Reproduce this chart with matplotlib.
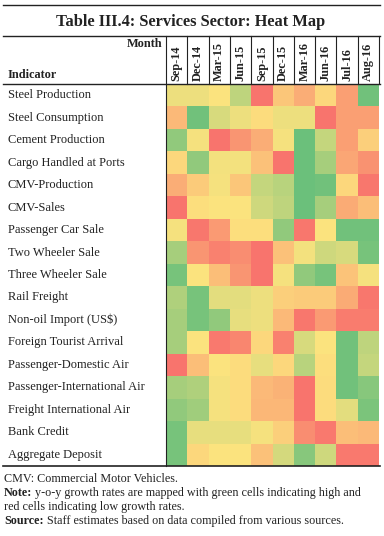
import matplotlib
matplotlib.use("Agg")
import matplotlib.pyplot as plt
import numpy as np
from matplotlib.colors import LinearSegmentedColormap

months = ["Sep-14", "Dec-14", "Mar-15", "Jun-15", "Sep-15", "Dec-15",
          "Mar-16", "Jun-16", "Jul-16", "Aug-16"]
indicators = ["Steel Production", "Steel Consumption", "Cement Production",
              "Cargo Handled at Ports", "CMV-Production", "CMV-Sales",
              "Passenger Car Sale", "Two Wheeler Sale", "Three Wheeler Sale",
              "Rail Freight", "Non-oil Import (US$)", "Foreign Tourist Arrival",
              "Passenger-Domestic Air", "Passenger-International Air",
              "Freight International Air", "Bank Credit", "Aggregate Deposit"]

# relative growth score: 0 = lowest (red), 0.5 = middle (yellow), 1 = highest (green)
steel_production = [0.55, 0.55, 0.50, 0.70, 0.05, 0.38, 0.28, 0.45, 0.22, 0.95]
steel_consumption = [0.33, 0.95, 0.62, 0.55, 0.47, 0.55, 0.55, 0.05, 0.22, 0.22]
cement_production = [0.85, 0.52, 0.05, 0.18, 0.28, 0.52, 0.97, 0.68, 0.22, 0.42]
cargo_ports = [0.45, 0.85, 0.53, 0.53, 0.36, 0.05, 0.97, 0.78, 0.25, 0.17]
cmv_production = [0.28, 0.40, 0.52, 0.38, 0.68, 0.72, 0.97, 0.95, 0.45, 0.06]
cmv_sales = [0.05, 0.48, 0.50, 0.50, 0.65, 0.70, 0.97, 0.78, 0.27, 0.35]
passenger_car = [0.52, 0.06, 0.20, 0.48, 0.48, 0.85, 0.06, 0.50, 0.95, 0.95]
two_wheeler = [0.78, 0.18, 0.10, 0.15, 0.05, 0.36, 0.53, 0.65, 0.62, 0.93]
three_wheeler = [0.93, 0.50, 0.35, 0.18, 0.05, 0.52, 0.85, 0.93, 0.37, 0.52]
rail_freight = [0.75, 0.93, 0.58, 0.58, 0.55, 0.42, 0.40, 0.40, 0.27, 0.06]
non_oil_import = [0.78, 0.93, 0.85, 0.57, 0.55, 0.33, 0.06, 0.20, 0.08, 0.08]
foreign_tourist = [0.78, 0.50, 0.07, 0.12, 0.45, 0.10, 0.62, 0.50, 0.95, 0.70]
pass_domestic_air = [0.05, 0.35, 0.50, 0.47, 0.57, 0.45, 0.72, 0.48, 0.95, 0.68]
pass_intl_air = [0.78, 0.75, 0.52, 0.47, 0.33, 0.30, 0.05, 0.47, 0.95, 0.88]
freight_intl_air = [0.85, 0.80, 0.52, 0.47, 0.32, 0.32, 0.05, 0.47, 0.58, 0.92]
bank_credit = [0.93, 0.57, 0.57, 0.57, 0.52, 0.42, 0.15, 0.07, 0.35, 0.33]
aggregate_deposit = [0.93, 0.45, 0.50, 0.50, 0.36, 0.63, 0.88, 0.65, 0.07, 0.07]

rows = [steel_production, steel_consumption, cement_production, cargo_ports,
        cmv_production, cmv_sales, passenger_car, two_wheeler, three_wheeler,
        rail_freight, non_oil_import, foreign_tourist, pass_domestic_air,
        pass_intl_air, freight_intl_air, bank_credit, aggregate_deposit]
data = np.array(rows)

W, H = 384, 536
fig = plt.figure(figsize=(W / 100, H / 100), dpi=100)
serif = ["Liberation Serif", "DejaVu Serif"]
tc = "#222222"

cmap = LinearSegmentedColormap.from_list("rag", ["#F8696B", "#FCE37E", "#63BE7B"])

# geometry in pixels
gx0, gx1 = 166, 379
gy0, gy1 = 84, 466

hax = fig.add_axes([gx0 / W, 1 - gy1 / H, (gx1 - gx0) / W, (gy1 - gy0) / H])
hax.pcolormesh(np.arange(len(months) + 1), np.arange(len(indicators) + 1), data,
               cmap=cmap, vmin=0, vmax=1, shading="flat")
hax.set_xlim(0, len(months))
hax.set_ylim(len(indicators), 0)
hax.axis("off")

# overlay axes in pixel coordinates
ax = fig.add_axes([0, 0, 1, 1], facecolor="none")
ax.set_xlim(0, W)
ax.set_ylim(H, 0)
ax.axis("off")

lc = "#222222"
ax.plot([3, 380], [5, 5], color=lc, lw=1.0)
ax.text(191, 22, "Table III.4: Services Sector: Heat Map", ha="center", va="center",
        fontsize=11.8, fontweight="bold", family=serif, color=tc)
ax.plot([3, 380], [36, 36], color=lc, lw=1.0)
ax.plot([3, 380], [gy0, gy0], color=lc, lw=1.0)
ax.plot([3, 380], [gy1, gy1], color=lc, lw=1.2)
ax.plot([gx0, gx0], [36, gy1], color=lc, lw=0.8)

cw = (gx1 - gx0) / len(months)
for i, m in enumerate(months):
    if i > 0:
        x = gx0 + i * cw
        ax.plot([x, x], [36, gy0], color=lc, lw=0.8)
    ax.text(gx0 + (i + 0.5) * cw, 81, m, rotation=90, ha="center", va="bottom",
            fontsize=8.8, fontweight="bold", family=serif, color=tc)
ax.plot([gx1, gx1], [36, gy0], color=lc, lw=0.8)

ax.text(162, 44, "Month", ha="right", va="center", fontsize=8.8, fontweight="bold",
        family=serif, color=tc)
ax.text(8, 75, "Indicator", ha="left", va="center", fontsize=8.8, fontweight="bold",
        family=serif, color=tc)

rh = (gy1 - gy0) / len(indicators)
for j, name in enumerate(indicators):
    ax.text(8, gy0 + (j + 0.5) * rh, name, ha="left", va="center", fontsize=9,
            family=serif, color=tc)

fs = 8.7
ax.text(4, 485, "CMV: Commercial Motor Vehicles.", ha="left", va="bottom",
        fontsize=fs, family=serif, color=tc)
b1 = ax.text(4, 499, "Note:", ha="left", va="bottom", fontsize=fs,
             fontweight="bold", family=serif, color=tc)
ax.annotate(" y-o-y growth rates are mapped with green cells indicating high and",
            xy=(1, 0), xycoords=b1, ha="left", va="bottom", fontsize=fs,
            family=serif, color=tc)
ax.text(4, 513, "red cells indicating low growth rates.", ha="left", va="bottom",
        fontsize=fs, family=serif, color=tc)
b2 = ax.text(4, 527, "Source:", ha="left", va="bottom", fontsize=fs,
             fontweight="bold", family=serif, color=tc)
ax.annotate(" Staff estimates based on data compiled from various sources.",
            xy=(1, 0), xycoords=b2, ha="left", va="bottom", fontsize=fs,
            family=serif, color=tc)

fig.savefig("out.png", dpi=100)
